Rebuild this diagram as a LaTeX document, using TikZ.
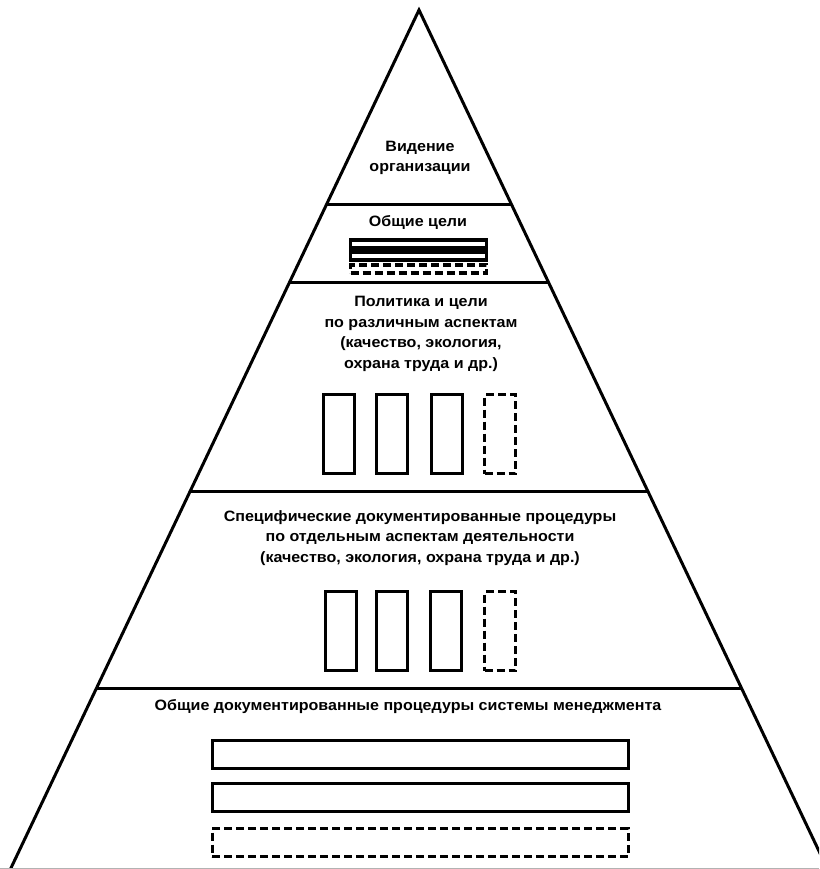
\documentclass[tikz,border=0pt]{standalone}
\usepackage{fontspec}
\setmainfont{Liberation Sans}
\usetikzlibrary{calc}
\tikzset{
  edge/.style={line width=3pt, line cap=round, line join=miter},
  lvl/.style={line width=3pt},
  label/.style={font=\bfseries\fontsize{15}{20.6}\selectfont, align=center, inner sep=0pt, xscale=1.07, transform shape},
  vbox/.style={draw, line width=3pt, minimum width=31pt, minimum height=79pt, inner sep=0pt},
  hbox/.style={draw, line width=3pt, minimum width=416pt, minimum height=28pt, inner sep=0pt},
  sbox/.style={draw, line width=3.3pt, minimum width=136pt, minimum height=8pt, inner sep=0pt},
  dashbox/.style={dash pattern=on 8pt off 4pt}
}
\begin{document}
\begin{tikzpicture}[x=1pt,y=-1pt]
\useasboundingbox (0,0) rectangle (819,869);
\fill[white] (0,0) rectangle (819,869);
\begin{scope}
\clip (0,0) rectangle (819,869);
\coordinate (A) at (419,10);
\coordinate (L) at (10.5,869);
\coordinate (R) at (827.5,869);
\draw[edge] (L) -- (A) -- (R);
\draw[lvl] ($(A)!0.2270!(L)$) -- ($(A)!0.2270!(R)$);
\draw[lvl] ($(A)!0.3178!(L)$) -- ($(A)!0.3178!(R)$);
\draw[lvl] ($(A)!0.5611!(L)$) -- ($(A)!0.5611!(R)$);
\draw[lvl] ($(A)!0.7893!(L)$) -- ($(A)!0.7893!(R)$);
\draw[gray!60, line width=1pt] (0,868.5) -- (819,868.5);
\end{scope}

\node[label] (t1) at (420,158) {Видение\\организации};
\node[label] (t2) at (418,222) {Общие цели};
\node[sbox] (s1) at (418.5,244) {};
\node[sbox] (s2) at (418.5,256) {};
\node[sbox, dashbox] (s3) at (418.5,269) {};

\node[label] (t3) at (421,334) {Политика и цели\\по различным аспектам\\(качество, экология,\\охрана труда и др.)};
\node[vbox] (a1) at (339,434) {};
\node[vbox] (a2) at (392,434) {};
\node[vbox] (a3) at (446.5,434) {};
\node[vbox, dashbox] (a4) at (500,434) {};

\node[label] (t4) at (420,538) {Специфические документированные процедуры\\по отдельным аспектам деятельности\\(качество, экология, охрана труда и др.)};
\node[vbox] (b1) at (341,631) {};
\node[vbox] (b2) at (392,631) {};
\node[vbox] (b3) at (445.5,631) {};
\node[vbox, dashbox] (b4) at (500,631) {};

\node[label] (t5) at (408,707) {Общие документированные процедуры системы менеджмента};
\node[hbox] (c1) at (420,754) {};
\node[hbox] (c2) at (420,797.5) {};
\node[hbox, dashbox] (c3) at (420,842.5) {};
\end{tikzpicture}
\end{document}
